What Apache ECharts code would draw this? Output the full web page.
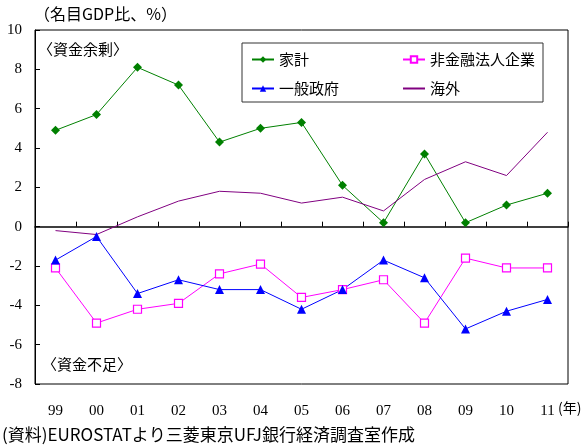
<!DOCTYPE html>
<html>
<head>
<meta charset="utf-8">
<script src="https://cdn.jsdelivr.net/npm/echarts@6/dist/echarts.min.js"></script>
<style>
  html, body { margin: 0; padding: 0; background: #fff; }
  #chart { width: 587px; height: 447px; }
</style>
</head>
<body>
<div id="chart"></div>
<script>
  // 年
  var years = ['99', '00', '01', '02', '03', '04', '05', '06', '07', '08', '09', '10', '11'];
  // 名目GDP比、%
  var household = [4.9, 5.7, 8.1, 7.2, 4.3, 5.0, 5.3, 2.1, 0.2, 3.7, 0.2, 1.1, 1.7];
  var corporate = [-2.1, -4.9, -4.2, -3.9, -2.4, -1.9, -3.6, -3.2, -2.7, -4.9, -1.6, -2.1, -2.1];
  var government = [-1.7, -0.5, -3.4, -2.7, -3.2, -3.2, -4.2, -3.2, -1.7, -2.6, -5.2, -4.3, -3.7];
  var overseas = [-0.2, -0.4, 0.5, 1.3, 1.8, 1.7, 1.2, 1.5, 0.8, 2.4, 3.3, 2.6, 4.8];
  var yTicks = { min: -8, max: 10, step: 2 };

  var serif = '"Liberation Serif", "Times New Roman", serif';
  var jp = '"Noto Sans CJK JP", sans-serif';

  var legendBase = {
    orient: 'vertical', top: 47,
    itemWidth: 22, itemHeight: 8, itemGap: 14,
    textStyle: { fontFamily: jp, fontSize: 15, color: '#000' },
    selectedMode: false
  };

  var chart = echarts.init(document.getElementById('chart'));
  chart.setOption({
    animation: false,
    grid: { left: 35, right: 19, top: 30, bottom: 63, show: true, borderColor: '#000', borderWidth: 1, backgroundColor: 'transparent' },
    legend: [
      Object.assign({}, legendBase, { left: 246, data: ['家計', '一般政府'] }),
      Object.assign({}, legendBase, {
        left: 397,
        data: ['非金融法人企業', { name: '海外', itemStyle: { color: 'transparent', borderWidth: 0 } }]
      })
    ],
    xAxis: [
      {
        type: 'category', data: years,
        axisLine: { onZero: true, lineStyle: { color: '#000', width: 1.5 } },
        axisTick: { show: true, inside: true, length: 5, lineStyle: { color: '#000' } },
        axisLabel: { show: false }
      },
      {
        type: 'category', data: years, position: 'bottom',
        axisLine: { show: false }, axisTick: { show: false },
        axisLabel: { margin: 20, fontFamily: serif, fontSize: 15, color: '#000' }
      }
    ],
    yAxis: {
      type: 'value', min: yTicks.min, max: yTicks.max, interval: yTicks.step,
      splitLine: { show: false },
      axisLine: { show: true, onZero: false, lineStyle: { color: '#000' } },
      axisTick: { show: true, inside: true, length: 5, lineStyle: { color: '#000' } },
      axisLabel: { margin: 13, fontFamily: serif, fontSize: 15, color: '#000' }
    },
    series: [
      {
        name: '家計', type: 'line', data: household,
        symbol: 'diamond', symbolSize: 9,
        lineStyle: { color: '#008000', width: 1 },
        itemStyle: { color: '#008000' }
      },
      {
        name: '非金融法人企業', type: 'line', data: corporate,
        symbol: 'rect', symbolSize: 8,
        lineStyle: { color: '#ff00ff', width: 1 },
        itemStyle: { color: '#fff', borderColor: '#ff00ff', borderWidth: 1.2 }
      },
      {
        name: '一般政府', type: 'line', data: government,
        symbol: 'triangle', symbolSize: 9,
        lineStyle: { color: '#0000ff', width: 1 },
        itemStyle: { color: '#0000ff' }
      },
      {
        name: '海外', type: 'line', data: overseas,
        symbol: 'none',
        lineStyle: { color: '#800080', width: 1 },
        itemStyle: { color: '#800080' }
      }
    ],
    graphic: [
      { type: 'rect', shape: { x: 242, y: 43, width: 301, height: 59 }, style: { fill: 'none', stroke: '#333', lineWidth: 1 }, z: 100 },
      { type: 'text', left: 34, top: 6, style: { text: '（名目GDP比、%）', font: '16px ' + jp, fill: '#000' } },
      { type: 'text', left: 38, top: 42, style: { text: '〈資金余剰〉', font: '15px ' + jp, fill: '#000' } },
      { type: 'text', left: 42, top: 357, style: { text: '〈資金不足〉', font: '15px ' + jp, fill: '#000' } },
      { type: 'text', left: 558, top: 401, style: { text: '(年)', font: '14px ' + jp, fill: '#000' } },
      { type: 'text', left: 2, top: 426, style: { text: '(資料)EUROSTATより三菱東京UFJ銀行経済調査室作成', font: '17px ' + jp, fill: '#000' } }
    ]
  });
</script>
</body>
</html>
